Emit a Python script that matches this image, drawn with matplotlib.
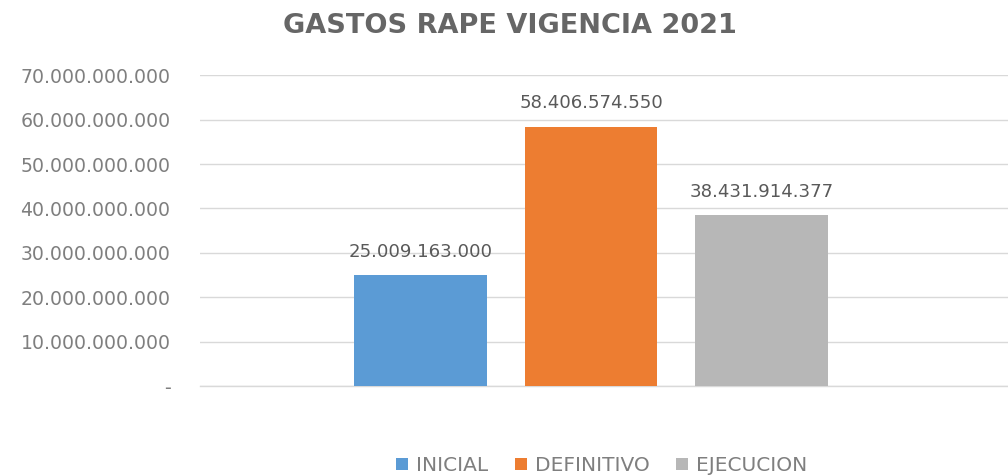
import matplotlib
matplotlib.use("Agg")
import matplotlib.pyplot as plt
from matplotlib.ticker import FuncFormatter, MultipleLocator

title = "GASTOS RAPE VIGENCIA 2021"
series = ["INICIAL", "DEFINITIVO", "EJECUCION"]
values = [25009163000, 58406574550, 38431914377]
colors = ["#5B9BD5", "#ED7D31", "#B7B7B7"]

def fmt_num(v):
    v = int(round(v))
    if v == 0:
        return "-"
    return f"{v:,}".replace(",", ".")

plt.rcParams['font.family'] = ['DejaVu Sans']

fig = plt.figure(figsize=(10.08, 4.76), dpi=100)
ax = fig.add_axes([0.198, 0.189, 0.802, 0.653])

positions = [-1, 0, 1]
for p, name, v, c in zip(positions, series, values, colors):
    ax.bar(p, v, width=0.78, color=c, label=name, zorder=3)
    ax.text(p, v + 3.2e9, fmt_num(v), ha="center", va="bottom",
            fontsize=13.1, color="#595959")

ax.set_xlim(-2.3, 2.45)
ax.set_ylim(0, 70e9)
ax.yaxis.set_major_locator(MultipleLocator(10e9))
ax.yaxis.set_major_formatter(FuncFormatter(lambda v, p: fmt_num(v)))
ax.grid(axis="y", color="#D9D9D9", linewidth=1, zorder=0)
ax.axhline(0, color="#D9D9D9", linewidth=1, zorder=2, clip_on=False)
ax.set_xticks([])
for s in ax.spines.values():
    s.set_visible(False)
ax.tick_params(axis="y", length=0, pad=21, labelsize=13.6, labelcolor="#7F7F7F")

fig.text(0.506, 0.946, title, ha="center", va="center", fontsize=19.5,
         fontweight="bold", color="#666666")

leg = fig.legend(loc="center", bbox_to_anchor=(0.597, 0.022), ncol=3,
                 frameon=False, fontsize=14.5, handlelength=0.6, handleheight=0.6,
                 handletextpad=0.4, columnspacing=1.3)
for t in leg.get_texts():
    t.set_color("#7F7F7F")

fig.savefig("out.png", dpi=100)
